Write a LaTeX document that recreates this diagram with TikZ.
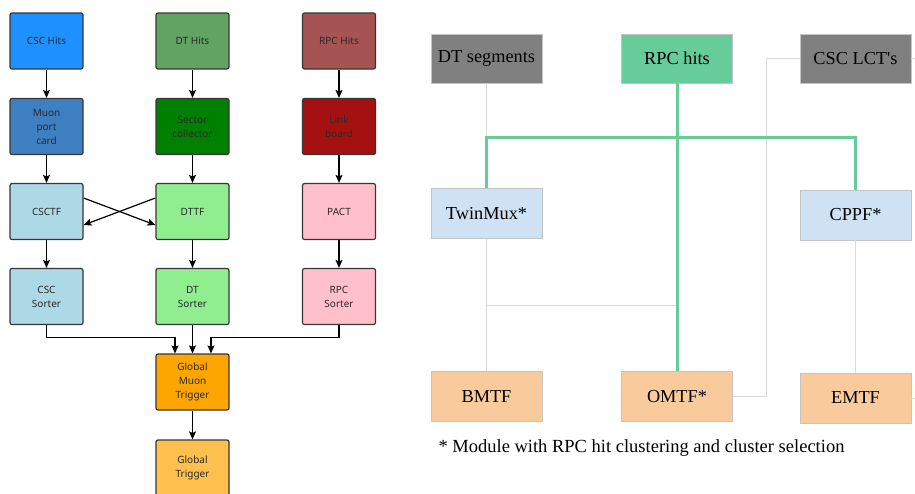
\documentclass[tikz,border=0pt]{standalone}
\usepackage{fontspec}
\setmainfont{Liberation Serif}
\newfontfamily\blockfont{Noto Sans}
\usetikzlibrary{arrows.meta}

\definecolor{cschits}{HTML}{1E90FF}
\definecolor{muonport}{HTML}{3E7FC1}
\definecolor{dthits}{HTML}{62A262}
\definecolor{sectorcol}{HTML}{008000}
\definecolor{rpchits}{HTML}{A65353}
\definecolor{linkboard}{HTML}{A51111}
\definecolor{csctf}{HTML}{ADD8E6}
\definecolor{dttf}{HTML}{90EE90}
\definecolor{pact}{HTML}{FFC0CB}
\definecolor{gmt}{HTML}{FFA500}
\definecolor{gt}{HTML}{FFC04D}
\definecolor{blockedge}{HTML}{363636}
\definecolor{blocktext}{HTML}{2A2A2A}
\definecolor{inputgray}{HTML}{808080}
\definecolor{rpcgreen}{HTML}{66CC99}
\definecolor{layerblue}{HTML}{CFE2F3}
\definecolor{tfpeach}{HTML}{F9CB9C}
\definecolor{modedge}{HTML}{C4C4C4}
\definecolor{linkgray}{HTML}{DADADA}

\tikzset{
  block/.style={draw=blockedge, line width=1.2pt, rounded corners=2pt,
    minimum width=73pt, minimum height=56pt, inner sep=0pt, align=center,
    text=blocktext, font=\blockfont\fontsize{10}{14}\selectfont},
  flow/.style={-{Stealth[length=8pt,width=7pt,inset=1.5pt]}, line width=1.2pt},
  module/.style={draw=modedge, line width=0.8pt, minimum width=111pt,
    minimum height=50pt, inner sep=0pt, font=\fontsize{18.3}{22}\selectfont},
  link/.style={draw=linkgray, line width=0.8pt},
  rpclink/.style={draw=rpcgreen, line width=3pt},
}

\begin{document}
\begin{tikzpicture}[x=1pt, y=-1pt]
  \clip (0,0) rectangle (915,493);

  %%%%%%%%%%%Legacy chain: inputs%%%%%%%%%%%
  \node[block, fill=cschits] (csc) at (46.5,41) {CSC Hits};
  \node[block, fill=dthits] (dt) at (192.5,41) {DT Hits};
  \node[block, fill=rpchits] (rpc) at (339,41) {RPC Hits};

  %%%%%%%%%%%Front-end boards%%%%%%%%%%%%%%%
  \node[block, fill=muonport] (mpc) at (46.5,126.5) {Muon\\port\\card};
  \node[block, fill=sectorcol] (sc) at (192.5,126.5) {Sector\\collector};
  \node[block, fill=linkboard] (lb) at (339,126.5) {Link\\board};

  %%%%%%%%%%%Track finders%%%%%%%%%%%%%%%%%%
  \node[block, fill=csctf] (csctf) at (46.5,211.5) {CSCTF};
  \node[block, fill=dttf] (dttf) at (192.5,211.5) {DTTF};
  \node[block, fill=pact] (pact) at (339,211.5) {PACT};

  %%%%%%%%%%%Sorters%%%%%%%%%%%%%%%%%%%%%%%%
  \node[block, fill=csctf] (cscsort) at (46.5,296.5) {CSC\\Sorter};
  \node[block, fill=dttf] (dtsort) at (192.5,296.5) {DT\\Sorter};
  \node[block, fill=pact] (rpcsort) at (339,296.5) {RPC\\Sorter};

  %%%%%%%%%%%Global trigger%%%%%%%%%%%%%%%%%
  \node[block, fill=gmt] (gmt) at (192.5,382) {Global\\Muon\\Trigger};
  \node[block, fill=gt] (gt) at (192.5,468) {Global\\Trigger};

  %%%%%%%%%%%Arrows down each column%%%%%%%%
  \draw[flow] (csc) -- (mpc);
  \draw[flow] (mpc) -- (csctf);
  \draw[flow] (csctf) -- (cscsort);
  \draw[flow] (dt) -- (sc);
  \draw[flow] (sc) -- (dttf);
  \draw[flow] (dttf) -- (dtsort);
  \draw[flow] (rpc) -- (lb);
  \draw[flow] (lb) -- (pact);
  \draw[flow] (pact) -- (rpcsort);

  %%%%%%%%%%%CSC/DT exchange%%%%%%%%%%%%%%%%
  \draw[flow] ([yshift=13.5pt]csctf.east) -- ([yshift=-13.5pt]dttf.west);
  \draw[flow] ([yshift=13.5pt]dttf.west) -- ([yshift=-13.5pt]csctf.east);

  %%%%%%%%%%%Sorters into GMT%%%%%%%%%%%%%%%
  \draw[flow] (cscsort.south) -- ++(0,12) -| ([xshift=-17.5pt]gmt.north);
  \draw[flow] (dtsort) -- (gmt);
  \draw[flow] (rpcsort.south) -- ++(0,12) -| ([xshift=18.5pt]gmt.north);
  \draw[flow] (gmt) -- (gt);

  %%%%%%%%%%%Upgraded chain: inputs%%%%%%%%%
  \node[module, fill=inputgray, minimum height=49pt] (dtseg) at (486.5,58.5) {DT segments};
  \node[module, fill=rpcgreen, minimum height=49pt] (rpchit) at (677,58.5) {RPC hits};
  \node[module, fill=inputgray, minimum height=49pt] (csclct) at (855.5,58.5) {CSC LCT{\textquotesingle}s};

  %%%%%%%%%%%Concentrators%%%%%%%%%%%%%%%%%%
  \node[module, fill=layerblue] (twinmux) at (486.5,213.5) {TwinMux*};
  \node[module, fill=layerblue] (cppf) at (855.5,215) {CPPF*};

  %%%%%%%%%%%Track finders%%%%%%%%%%%%%%%%%%
  \node[module, fill=tfpeach] (bmtf) at (486.5,396.5) {BMTF};
  \node[module, fill=tfpeach] (omtf) at (677,396.5) {OMTF*};
  \node[module, fill=tfpeach] (emtf) at (855.5,398) {EMTF};

  \coordinate (split) at (677,137);

  %%%%%%%%%%%Thin links%%%%%%%%%%%%%%%%%%%%%
  \draw[link] (dtseg) -- (twinmux);
  \draw[link] (twinmux) -- (bmtf);
  \draw[link] (twinmux.south) -- ++(0,66) -| (omtf.north);
  \draw[link] (csclct.west) -- ++(-33,0) |- (omtf.east);
  \draw[link] (cppf) -- (emtf);
  \draw[link] (csclct.east) -- ++(12,0) |- (emtf.east);

  %%%%%%%%%%%RPC hit fan-out%%%%%%%%%%%%%%%%
  \draw[rpclink] (rpchit) -- (omtf);
  \draw[rpclink] (twinmux.north) -- (twinmux.north |- split)
    -- (cppf.north |- split) -- (cppf.north);

  \node[anchor=base west, font=\fontsize{18.5}{22}\selectfont] (note) at (435,452)
    {* Module with RPC hit clustering and cluster selection};
\end{tikzpicture}
\end{document}
